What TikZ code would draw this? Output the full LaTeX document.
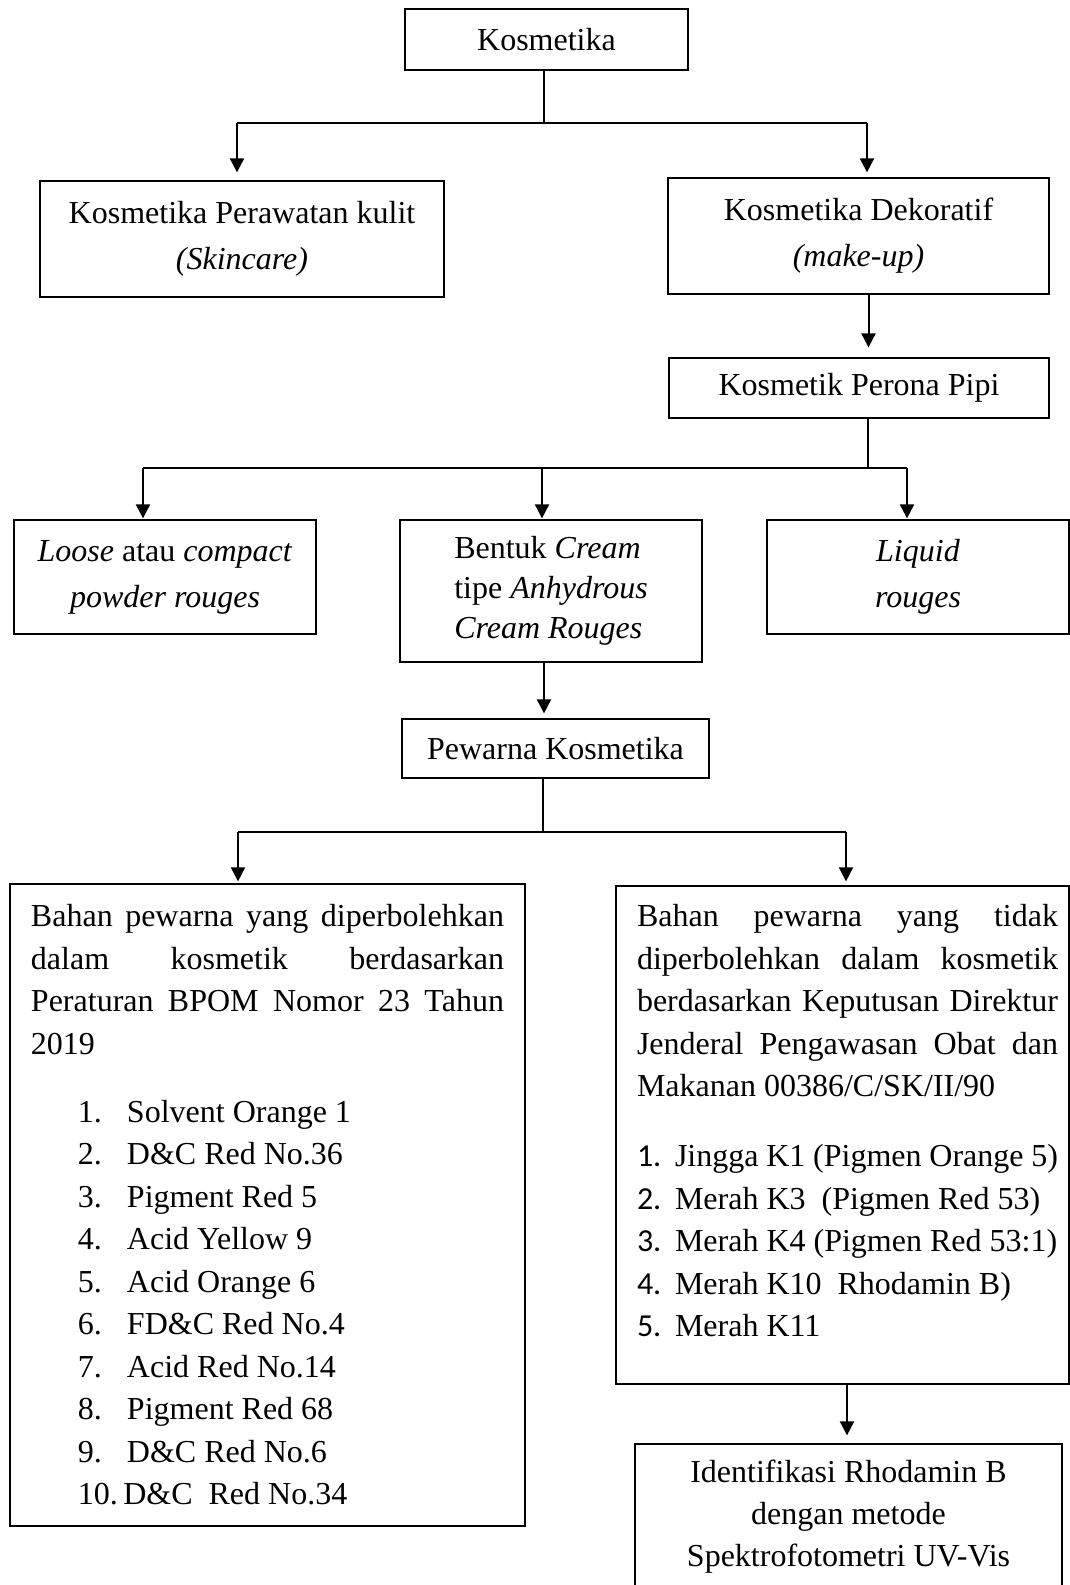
\documentclass[tikz,border=0pt]{standalone}
\usepackage{fontspec}
\setmainfont{Liberation Serif}
\newfontfamily\calfont{Carlito}
\usetikzlibrary{arrows.meta}

% justified line, list items
\newcommand{\jline}[1]{\makebox[\linewidth][s]{#1}\par}
\newcommand{\litem}[2]{\hspace*{23.5pt}\makebox[24.5pt][l]{#1}#2\par}
\newcommand{\ritem}[2]{\makebox[19pt][l]{\calfont #1}#2\par}

\tikzset{
  box/.style={draw, line width=0.65pt, inner sep=0pt, align=center, font=\fontsize{16}{23}\selectfont},
  listbox/.style={box, align=left, font=\fontsize{16}{21.25}\selectfont},
  arr/.style={-{Triangle[length=7pt,width=7pt]}, line width=1pt},
  bar/.style={line width=1.3pt},
  stem/.style={line width=0.75pt}
}

\begin{document}
\begin{tikzpicture}[x=0.5pt,y=-0.5pt]
\clip (0,0) rectangle (1070,1585);

\node[box, minimum width=141.5pt, minimum height=30.5pt] (kos) at (546.5,39.5) {Kosmetika};
\node[box, minimum width=202pt, minimum height=58pt] (kulit) at (242,239) {Kosmetika Perawatan kulit\\\textit{(Skincare)}};
\node[box, minimum width=190.5pt, minimum height=58pt] (dekor) at (858.5,236) {Kosmetika Dekoratif\\\textit{(make-up)}};
\node[box, minimum width=190pt, minimum height=30pt] (perona) at (859,388) {Kosmetik Perona Pipi};
\node[box, minimum width=151pt, minimum height=57pt] (loose) at (165,577) {\textit{Loose} atau \textit{compact}\\\textit{powder rouges}};
\node[box, align=left, font=\fontsize{16}{20}\selectfont, minimum width=151pt, minimum height=71pt] (cream) at (551,591) {Bentuk \textit{Cream}\\tipe \textit{Anhydrous}\\\textit{Cream Rouges}};
\node[box, minimum width=151pt, minimum height=57pt] (liquid) at (918,577) {\textit{Liquid}\\\textit{rouges}};
\node[box, minimum width=153.5pt, minimum height=29.5pt] (pewarna) at (555.5,748.5) {Pewarna Kosmetika};

\node[listbox, minimum width=257.5pt, minimum height=321pt] (boleh) at (267.5,1205) {\parbox{236.5pt}{%
\jline{Bahan pewarna yang diperbolehkan}
\jline{dalam kosmetik berdasarkan}
\jline{Peraturan BPOM Nomor 23 Tahun}
2019\par
\vspace{12.75pt}
\litem{1.}{Solvent Orange 1}
\litem{2.}{D\&C Red No.36}
\litem{3.}{Pigment Red 5}
\litem{4.}{Acid Yellow 9}
\litem{5.}{Acid Orange 6}
\litem{6.}{FD\&C Red No.4}
\litem{7.}{Acid Red No.14}
\litem{8.}{Pigment Red 68}
\litem{9.}{D\&C Red No.6}
\hspace*{23.5pt}10.\,D\&C\ \ Red No.34\par}};

\node[listbox, minimum width=226.5pt, minimum height=249pt] (tidak) at (842.5,1135) {\hspace*{5pt}\parbox{210.5pt}{%
\jline{Bahan pewarna yang tidak}
\jline{diperbolehkan dalam kosmetik}
\jline{berdasarkan Keputusan Direktur}
\jline{Jenderal Pengawasan Obat dan}
Makanan 00386/C/SK/II/90\par
\vspace{13.75pt}
\ritem{1.}{Jingga K1 (Pigmen Orange 5)}
\ritem{2.}{Merah K3\ \ (Pigmen Red 53)}
\ritem{3.}{Merah K4 (Pigmen Red 53:1)}
\ritem{4.}{Merah K10\ \ Rhodamin B)}
\ritem{5.}{Merah K11}
\vspace{14pt}}};

\node[box, font=\fontsize{16}{21}\selectfont, minimum width=213.5pt, minimum height=73pt] (uji) at (848.5,1517) {Identifikasi Rhodamin B\\dengan metode\\Spektrofotometri UV-Vis};

% connectors
\coordinate (j1) at (544,123);
\coordinate (j1l) at (237,123);
\coordinate (j1r) at (867,123);
\draw[stem] (kos.south -| j1) -- (j1);
\draw[bar] (j1l) -- (j1r);
\draw[arr, shorten >=4pt] (j1l) -- (j1l |- kulit.north);
\draw[arr, shorten >=2.5pt] (j1r) -- (j1r |- dekor.north);

\draw[arr, shorten >=5pt] ([xshift=5pt]dekor.south) -- ([xshift=5pt]dekor.south |- perona.north);

\coordinate (j2) at (868,468);
\coordinate (j2l) at (143,468);
\coordinate (j2m) at (542,468);
\coordinate (j2r) at (907,468);
\draw[stem] ([xshift=4.5pt]perona.south) -- (j2);
\draw[bar] (j2l) -- (j2r);
\draw[arr, shorten >=0.5pt] (j2l) -- (j2l |- loose.north);
\draw[arr, shorten >=0.5pt] (j2m) -- (j2m |- cream.north);
\draw[arr, shorten >=0.5pt] (j2r) -- (j2r |- liquid.north);

\draw[arr, shorten >=2.5pt] ([xshift=-3.5pt]cream.south) -- ([xshift=-3.5pt]cream.south |- pewarna.north);

\coordinate (j3) at (543,832);
\coordinate (j3l) at (238,832);
\coordinate (j3r) at (846,832);
\draw[stem] ([xshift=-6.25pt]pewarna.south) -- (j3);
\draw[bar] (j3l) -- (j3r);
\draw[arr, shorten >=1pt] (j3l) -- (j3l |- boleh.north);
\draw[arr, shorten >=2pt] (j3r) -- (j3r |- tidak.north);

\draw[arr, shorten >=4pt] ([xshift=2.25pt]tidak.south) -- ([xshift=2.25pt]tidak.south |- uji.north);
\end{tikzpicture}
\end{document}
